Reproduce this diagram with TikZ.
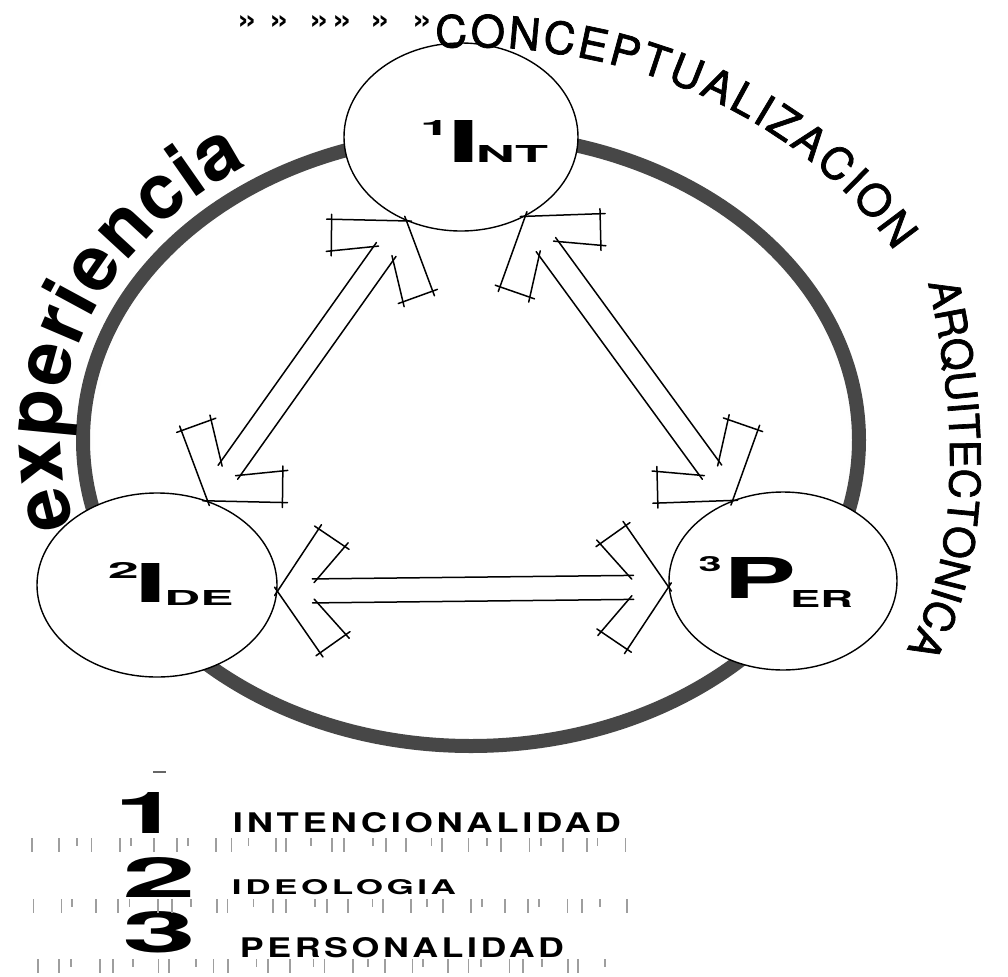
\documentclass[tikz,border=0pt]{standalone}
\usepackage{fontspec}
\setmainfont{TeX Gyre Heros}
\newfontfamily\spacedfont[LetterSpace=10]{TeX Gyre Heros}
\newfontfamily\medfont[FakeBold=1.6]{TeX Gyre Heros}
\usetikzlibrary{calc,shapes.geometric,decorations.text}

\pgfdeclareradialshading{ringshade}{\pgfpoint{0bp}{0bp}}{color(0bp)=(white); color(24bp)=(white); color(50bp)=(black!16)}

\newcommand{\expstyle}{\fontsize{38.5}{40}\selectfont\bfseries}
\newcommand{\topstyle}{\fontsize{22}{24}\medfont}
\newcommand{\sidestyle}{\fontsize{21}{23}\medfont}

% double block arrow between two tips
\newcommand{\blockarrow}[2]{%
  \foreach \ta/\tb in {#1/#2,#2/#1}{%
    \foreach \rot in {90,-90}{%
      \draw[sketch] (\ta) -- ($(\ta)!21pt!(\tb)!31pt!\rot:(\tb)$);
      \draw[sketch] ($(\ta)!21pt!(\tb)!31pt!\rot:(\tb)$) -- ($(\ta)!34pt!(\tb)!22pt!\rot:(\tb)$);
      \draw[sketch] ($(\ta)!34pt!(\tb)!22pt!\rot:(\tb)$) -- ($(\ta)!20pt!(\tb)!6pt!\rot:(\tb)$);
    }
  }
  \foreach \rot/\qot in {90/-90,-90/90}
    \draw[sketch] ($(#1)!20pt!(#2)!6pt!\rot:(#2)$) -- ($(#2)!20pt!(#1)!6pt!\qot:(#1)$);
}

\begin{document}
\begin{tikzpicture}[
    x=0.5pt, y=0.5pt,
    ring/.style={draw=black!72, line width=7pt},
    bubble/.style={ellipse, draw=black, line width=0.7pt, fill=white, inner sep=0pt},
    sketch/.style={draw=black, line width=0.75pt, line cap=round, shorten <=-2.5pt, shorten >=-2.5pt},
    glyph/.style={inner sep=0pt, font=\bfseries},
    word/.style={inner sep=0pt, font=\spacedfont\bfseries},
    quote/.style={inner sep=0pt, font=\bfseries},
    tick/.style={draw=black!38, line width=0.9pt}
]
    \fill[white] (0,0) rectangle (1008,-976);
    \useasboundingbox (0,0) rectangle (1008,-976);

    % ring
    \fill[shading=ringshade] (471,-440) ellipse[x radius=194pt, y radius=153pt];
    \draw[ring] (471,-440) ellipse[x radius=194pt, y radius=153pt];

    % the three circles
    \node[bubble, minimum width=117pt, minimum height=94pt] (int) at (461,-137) {};
    \node[bubble, minimum width=120pt, minimum height=92pt] (ide) at (157,-585) {};
    \node[bubble, minimum width=114pt, minimum height=89pt] (per) at (783,-581) {};

    \node[glyph] (int-sup) at (435,-127.5) {\resizebox{15pt}{7.5pt}{1}};
    \node[glyph] (int-main) at (464,-141) {\resizebox{16.5pt}{21pt}{I}};
    \node[glyph] (int-sub) at (512,-153.5) {\resizebox{36pt}{8.5pt}{NT}};
    \node[glyph] (ide-sup) at (123.5,-570) {\resizebox{15.5pt}{8pt}{2}};
    \node[glyph] (ide-main) at (151.5,-582.5) {\resizebox{16.5pt}{19.5pt}{I}};
    \node[glyph] (ide-sub) at (199,-597.5) {\resizebox{34.5pt}{7.5pt}{DE}};
    \node[glyph] (per-sup) at (710,-564.5) {\resizebox{11.5pt}{7.5pt}{3}};
    \node[glyph] (per-main) at (760,-577.5) {\resizebox{36.5pt}{20.5pt}{P}};
    \node[glyph] (per-sub) at (821.5,-598.5) {\resizebox{31.5pt}{8.5pt}{ER}};

    % arrows
    \coordinate (a1) at (int.237);
    \coordinate (a2) at (ide.59);
    \coordinate (b1) at (int.309);
    \coordinate (b2) at (per.122);
    \coordinate (c1) at (ide.-3);
    \coordinate (c2) at (per.183);
    \blockarrow{a1}{a2}
    \blockarrow{b1}{b2}
    \blockarrow{c1}{c2}

    % lettering round the ring
    \path[decorate, decoration={text along path, text={|\expstyle|experiencia}, text align=fit to path}]
        (471,-440) ++(195:205pt and 164pt) arc[start angle=195, end angle=123, x radius=205pt, y radius=164pt];
    \path[decorate, decoration={text along path, text={|\topstyle|CONCEPTUALIZACION}, text align=fit to path}]
        (470,-455) ++(94:245pt and 204pt) arc[start angle=94, end angle=30, x radius=245pt, y radius=204pt];
    \path[decorate, decoration={text along path, text={|\sidestyle|ARQUITECTONICA}, text align=fit to path}]
        (928,-283) .. controls (955,-400) and (965,-540) .. (912,-640);
    \foreach \x [count=\i] in {247,279,319,342,380,422}
        \node[quote] (gq\i) at (\x,-22) {\resizebox{10pt}{7pt}{»}};

    % legend
    \draw[black!60, line width=0.8pt] (153,-772) -- (166,-772);
    \node[glyph] (num1) at (148,-812.5) {\resizebox{33pt}{20.5pt}{1}};
    \node[glyph] (num2) at (160,-877) {\resizebox{37pt}{20pt}{2}};
    \node[glyph] (num3) at (160,-932.5) {\resizebox{37pt}{20.5pt}{3}};
    \node[word] (w1) at (427,-823) {\resizebox{194pt}{10pt}{INTENCIONALIDAD}};
    \node[word] (w2) at (344,-887.5) {\resizebox{112pt}{7.5pt}{IDEOLOGIA}};
    \node[word] (w3) at (402,-948) {\resizebox{162pt}{10pt}{PERSONALIDAD}};
    \foreach \y/\xe in {838/623, 899/623, 959/612}
        \foreach \x [count=\k] in {37,56.5,...,\xe}
            \draw[tick] ({\x+5*sin(\k*137+\y)},-\y) -- ++(0,{-8-6*(mod(\k,3)>0)});
\end{tikzpicture}
\end{document}
